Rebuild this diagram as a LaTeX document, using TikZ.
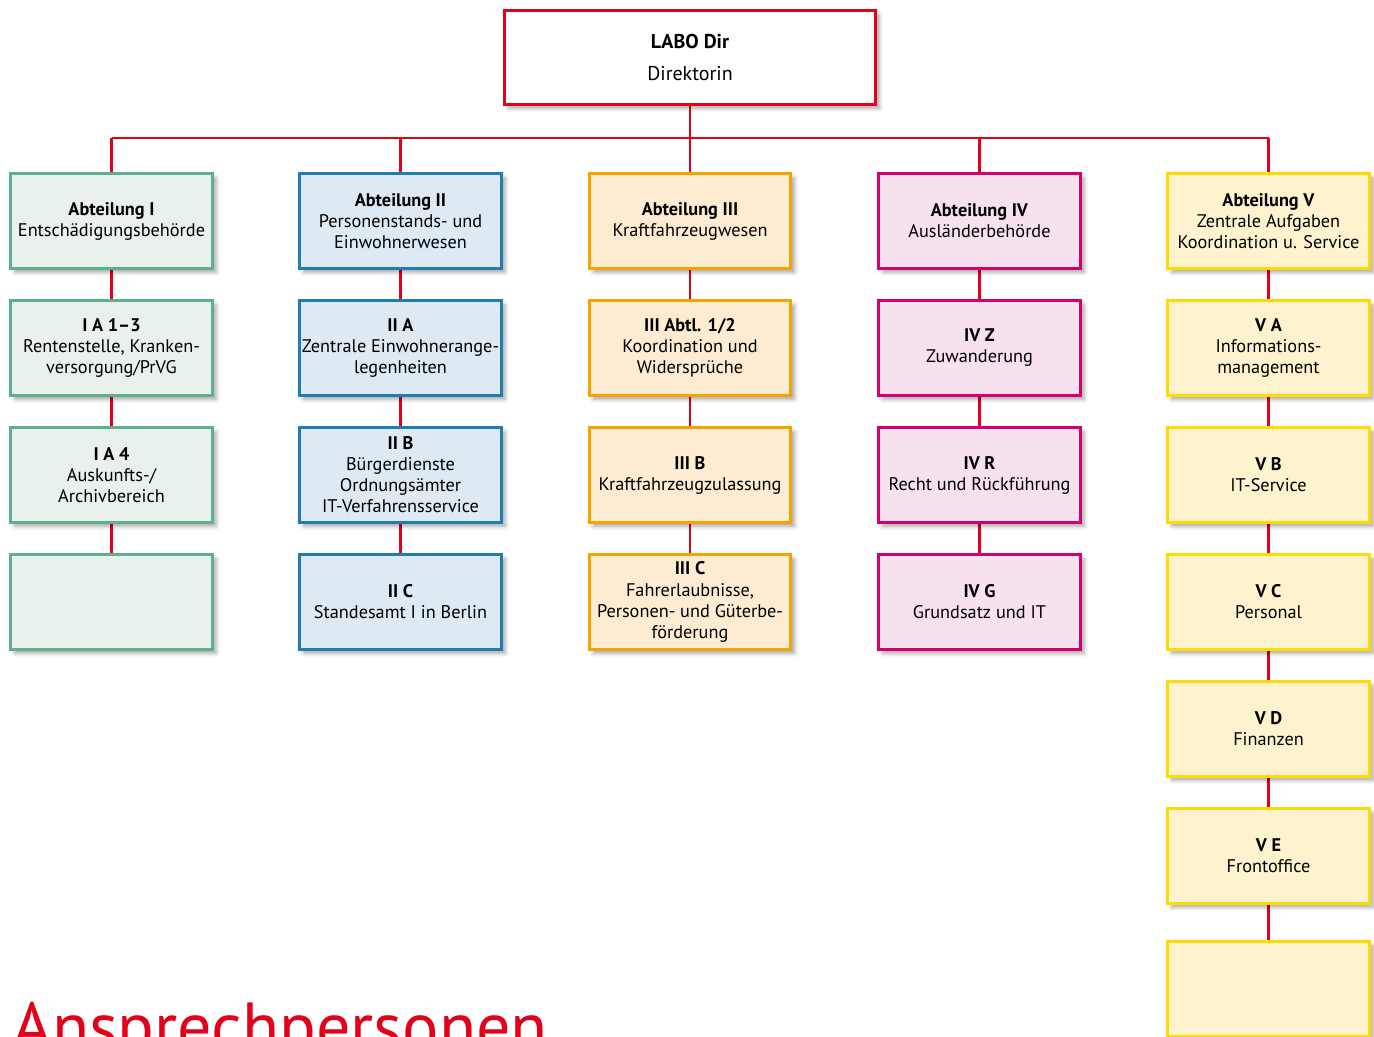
\documentclass[tikz,border=0pt]{standalone}
\usepackage{fontspec}
\setmainfont{PT Sans}
\usetikzlibrary{shadows,shadows.blur,backgrounds}
\definecolor{labored}{HTML}{E2001A}
\definecolor{grB}{HTML}{5FAE8C}\definecolor{grF}{HTML}{E8F1EC}
\definecolor{blB}{HTML}{1F7DB2}\definecolor{blF}{HTML}{DDE9F3}
\definecolor{orB}{HTML}{F5A300}\definecolor{orF}{HTML}{FDEBD2}
\definecolor{pkB}{HTML}{D5006F}\definecolor{pkF}{HTML}{F8E1EE}
\definecolor{yeB}{HTML}{FFDC00}\definecolor{yeF}{HTML}{FEF3CE}
\tikzset{
  box/.style={draw, line width=2.2pt, minimum width=151pt, minimum height=71pt,
    inner sep=1pt, align=center, font=\fontsize{13.7}{15.8}\selectfont,
    blur shadow={shadow xshift=3pt, shadow yshift=-3pt, shadow blur radius=3pt, shadow opacity=35}},
  gbox/.style={box, draw=grB, fill=grF},
  bbox/.style={box, draw=blB, fill=blF},
  obox/.style={box, draw=orB, fill=orF},
  pbox/.style={box, draw=pkB, fill=pkF},
  ybox/.style={box, draw=yeB, fill=yeF},
  conn/.style={draw=labored, line width=2pt},
}
\newcommand{\hd}[1]{\textbf{#1}}
\begin{document}
\begin{tikzpicture}[x=0.75pt,y=-0.75pt]
\useasboundingbox (0,0) rectangle (1374,1037);
\clip (0,0) rectangle (1374,1037);
\node[box, draw=labored, fill=white, minimum width=278pt, minimum height=70pt,
  font=\fontsize{15}{24}\selectfont] (dir) at (690,57.5) {\hd{LABO Dir}\\Direktorin};
% column I
\node[gbox] (a1) at (111.5,221) {\hd{Abteilung I}\\Entschädigungsbehörde};
\node[gbox] (a2) at (111.5,348) {\hd{I A 1–3}\\Rentenstelle, Kranken-\\versorgung/PrVG};
\node[gbox] (a3) at (111.5,475) {\hd{I A 4}\\Auskunfts-/\\Archivbereich};
\node[gbox] (a4) at (111.5,602) {};
% column II
\node[bbox] (b1) at (400.5,221) {\hd{Abteilung II}\\Personenstands- und\\Einwohnerwesen};
\node[bbox] (b2) at (400.5,348) {\hd{II A}\\Zentrale Einwohnerange-\\legenheiten};
\node[bbox] (b3) at (400.5,475) {\hd{II B}\\Bürgerdienste\\Ordnungsämter\\IT-Verfahrensservice};
\node[bbox] (b4) at (400.5,602) {\hd{II C}\\Standesamt I in Berlin};
% column III
\node[obox] (c1) at (690,221) {\hd{Abteilung III}\\Kraftfahrzeugwesen};
\node[obox] (c2) at (690,348) {\hd{III Abtl. 1/2}\\Koordination und\\Widersprüche};
\node[obox] (c3) at (690,475) {\hd{III B}\\Kraftfahrzeugzulassung};
\node[obox] (c4) at (690,602) {\hd{III C}\\Fahrerlaubnisse,\\Personen- und Güterbe-\\förderung};
% column IV
\node[pbox] (d1) at (979.5,221) {\hd{Abteilung IV}\\Ausländerbehörde};
\node[pbox] (d2) at (979.5,348) {\hd{IV Z}\\Zuwanderung};
\node[pbox] (d3) at (979.5,475) {\hd{IV R}\\Recht und Rückführung};
\node[pbox] (d4) at (979.5,602) {\hd{IV G}\\Grundsatz und IT};
% column V
\node[ybox] (e1) at (1268.5,221) {\hd{Abteilung V}\\Zentrale Aufgaben\\Koordination u. Service};
\node[ybox] (e2) at (1268.5,348) {\hd{V A}\\Informations-\\management};
\node[ybox] (e3) at (1268.5,475) {\hd{V B}\\IT-Service};
\node[ybox] (e4) at (1268.5,602) {\hd{V C}\\Personal};
\node[ybox] (e5) at (1268.5,729) {\hd{V D}\\Finanzen};
\node[ybox] (e6) at (1268.5,856) {\hd{V E}\\Frontoffice};
\node[ybox] (e7) at (1268.5,989) {};
% title
\node[anchor=base west, inner sep=0pt, text=labored, font=\fontsize{51}{60}\selectfont] (title) at (12,1050) {Ansprechpersonen};
% connectors
\begin{pgfonlayer}{background}
\coordinate (busL) at (111.5,138);
\coordinate (busR) at (1268.5,138);
\draw[conn] (dir.south) -- (dir.south |- busL);
\draw[conn] (busL) -- (busR);
\foreach \n in {a1,b1,c1,d1,e1} \draw[conn] (\n.north |- busL) -- (\n.north);
\draw[conn] (a1) -- (a2) -- (a3) -- (a4);
\draw[conn] (b1) -- (b2) -- (b3) -- (b4);
\draw[conn] (c1) -- (c2) -- (c3) -- (c4);
\draw[conn] (d1) -- (d2) -- (d3) -- (d4);
\draw[conn] (e1) -- (e2) -- (e3) -- (e4) -- (e5) -- (e6) -- (e7);
\end{pgfonlayer}
\end{tikzpicture}
\end{document}
